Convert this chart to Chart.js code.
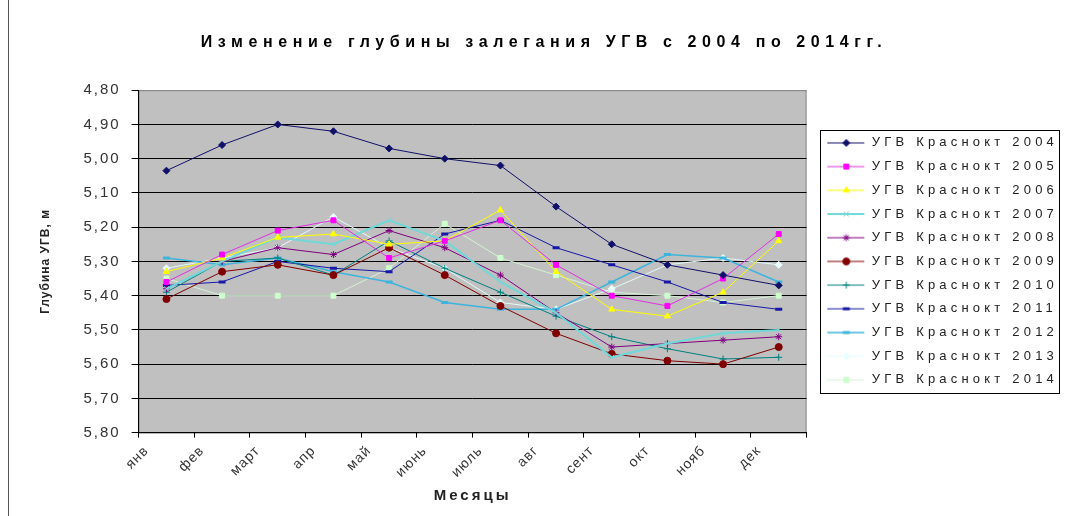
<!DOCTYPE html>
<html>
<head>
<meta charset="utf-8">
<script src="https://cdn.jsdelivr.net/npm/chart.js"></script>
<style>
  html, body { margin: 0; padding: 0; background: #fff; }
  #wrap { width: 1068px; height: 516px; position: relative; }
</style>
</head>
<body>
<div id="wrap"><canvas id="chart" width="1068" height="516"></canvas></div>
<script>
// months and yearly series (depth to groundwater, m)
let months = ["янв", "фев", "март", "апр", "май", "июнь", "июль", "авг", "сент", "окт", "нояб", "дек"];
let years = ["2004", "2005", "2006", "2007", "2008", "2009", "2010", "2011", "2012", "2013", "2014"];
let yTicks = [4.8, 4.9, 5.0, 5.1, 5.2, 5.3, 5.4, 5.5, 5.6, 5.7, 5.8];

let ugv2004 = [5.035, 4.96, 4.90, 4.92, 4.97, 5.00, 5.02, 5.14, 5.25, 5.31, 5.34, 5.37];
let ugv2005 = [5.36, 5.28, 5.21, 5.18, 5.29, 5.24, 5.18, 5.31, 5.40, 5.43, 5.35, 5.22];
let ugv2006 = [5.33, 5.29, 5.23, 5.22, 5.25, 5.24, 5.15, 5.33, 5.44, 5.46, 5.39, 5.24];
let ugv2007 = [5.38, 5.30, 5.23, 5.25, 5.18, 5.24, 5.36, 5.45, 5.58, 5.54, 5.51, 5.50];
let ugv2008 = [5.38, 5.30, 5.26, 5.28, 5.21, 5.26, 5.34, 5.45, 5.55, 5.54, 5.53, 5.52];
let ugv2009 = [5.41, 5.33, 5.31, 5.34, 5.26, 5.34, 5.43, 5.51, 5.57, 5.59, 5.60, 5.55];
let ugv2010 = [5.39, 5.30, 5.29, 5.34, 5.24, 5.32, 5.39, 5.46, 5.52, 5.555, 5.585, 5.58];
let ugv2011 = [5.37, 5.36, 5.30, 5.32, 5.33, 5.22, 5.18, 5.26, 5.31, 5.36, 5.42, 5.44];
let ugv2012 = [5.29, 5.31, 5.29, 5.33, 5.36, 5.42, 5.44, 5.44, 5.36, 5.28, 5.29, 5.36];
let ugv2013 = [5.32, 5.29, 5.26, 5.17, 5.26, 5.32, 5.42, 5.44, 5.38, 5.31, 5.29, 5.31];
let ugv2014 = [5.35, 5.40, 5.40, 5.40, 5.32, 5.19, 5.29, 5.34, 5.39, 5.40, 5.42, 5.40];

let series = [ugv2004, ugv2005, ugv2006, ugv2007, ugv2008, ugv2009, ugv2010, ugv2011, ugv2012, ugv2013, ugv2014];
let lineColors = ["#10106a", "#e030e0", "#ffff00", "#6fd8d8", "#800080", "#800000", "#008080", "#1818a8", "#3db4dc", "#e4fafa", "#d4f4d4"];
let markerFills = ["#10106a", "#ff00ff", "#ffff00", "#6fd8d8", "#800080", "#800000", "#008080", "#1818a8", "#3db4dc", "#e8ffff", "#ccffcc"];
let markers = ["rectRot", "rect", "triangle", "crossRot", "star", "circle", "cross", "line", "line", "rectRot", "rect"];
let lineWidths = [1, 1, 1, 2, 1, 1, 1, 1, 1.5, 1, 1];

let font = "'Liberation Sans', Arial, sans-serif";

function legendSwatch(i) {
  let c = document.createElement("canvas");
  c.width = 48;
  c.height = 14;
  let g = c.getContext("2d");
  g.strokeStyle = lineColors[i];
  g.lineWidth = lineWidths[i];
  g.beginPath();
  g.moveTo(10, 7);
  g.lineTo(47, 7);
  g.stroke();
  g.fillStyle = markerFills[i];
  g.strokeStyle = markers[i] === "line" ? lineColors[i] : markerFills[i];
  g.lineWidth = markers[i] === "line" ? 3 : 1;
  Chart.helpers.drawPoint(g, { pointStyle: markers[i], radius: 3.5, rotation: 0, borderWidth: g.lineWidth }, 29, 7);
  return c;
}

// letter spacing per layout box, the source chart is drawn with widely spaced text
function wrapSpacing(obj, name, sp) {
  let orig = obj[name];
  obj[name] = function () {
    let c = this.ctx;
    let prev = c.letterSpacing;
    c.letterSpacing = sp;
    let r = orig.apply(this, arguments);
    c.letterSpacing = prev;
    return r;
  };
}

let spacingPlugin = {
  id: "spacing",
  beforeLayout(chart) {
    chart.boxes.forEach((box) => {
      if (box._spaced) return;
      let sp = "0px";
      if (box === chart.legend) sp = "4.2px";
      else if (box === chart.titleBlock) sp = "5.6px";
      else if (box.id === "y") sp = "2px";
      else if (box.id === "x") sp = "1px";
      wrapSpacing(box, "update", sp);
      wrapSpacing(box, "draw", sp);
      if (box.id === "x") wrapSpacing(box, "drawTitle", "3px");
      if (box.id === "y") wrapSpacing(box, "drawTitle", "1px");
      box._spaced = true;
    });
  },
};

let framePlugin = {
  id: "frame",
  beforeDraw(chart) {
    let a = chart.chartArea;
    let ctx = chart.ctx;
    ctx.save();
    ctx.fillStyle = "#c0c0c0";
    ctx.fillRect(a.left, a.top, a.right - a.left, a.bottom - a.top);
    ctx.strokeStyle = "#8a8a8a";
    ctx.lineWidth = 1;
    ctx.strokeRect(a.left + 0.5, a.top + 0.5, a.right - a.left - 1, a.bottom - a.top);
    ctx.restore();
  },
  afterDraw(chart) {
    let ctx = chart.ctx;
    ctx.save();
    ctx.strokeStyle = "#555";
    ctx.lineWidth = 1;
    ctx.beginPath();
    ctx.moveTo(8.5, 0);
    ctx.lineTo(8.5, 516);
    ctx.stroke();
    // legend frame
    let hb = chart.legend.legendHitBoxes;
    if (hb && hb.length) {
      let l = Math.min(...hb.map((b) => b.left)) + 3;
      let t = Math.min(...hb.map((b) => b.top)) - 6;
      let r = Math.max(...hb.map((b) => b.left + b.width)) + 1;
      let btm = Math.max(...hb.map((b) => b.top + b.height)) + 7;
      ctx.strokeStyle = "#000";
      ctx.strokeRect(Math.round(l) + 0.5, Math.round(t) + 0.5, Math.round(r - l), Math.round(btm - t));
    }
    ctx.restore();
  },
};

let datasets = [];
for (let i = 0; i < series.length; i++) {
  datasets.push({
    label: "УГВ Краснокт " + years[i],
    data: series[i],
    borderColor: lineColors[i],
    backgroundColor: markerFills[i],
    borderWidth: lineWidths[i],
    pointStyle: markers[i],
    pointRadius: 3.5,
    pointHoverRadius: 3.5,
    pointBackgroundColor: markerFills[i],
    pointBorderColor: markers[i] === "line" ? lineColors[i] : markerFills[i],
    pointBorderWidth: markers[i] === "line" ? 3 : 1,
    tension: 0,
    fill: false,
  });
}

let config = {
  type: "line",
  data: { labels: months, datasets: datasets },
  options: {
    responsive: false,
    animation: false,
    devicePixelRatio: 1,
    layout: { padding: { top: 0, left: 20, right: 0, bottom: 0 } },
    plugins: {
      tooltip: { enabled: false },
      title: {
        display: true,
        text: "Изменение глубины залегания УГВ с 2004 по 2014гг.",
        color: "#000",
        font: { family: font, size: 16, weight: "bold" },
        padding: { top: 33, bottom: 38 },
      },
      legend: {
        position: "right",
        align: "center",
        fullSize: false,
        labels: {
          color: "#222",
          font: { family: font, size: 13 },
          usePointStyle: true,
          pointStyleWidth: 48,
          padding: 10.7,
          generateLabels(chart) {
            let items = Chart.defaults.plugins.legend.labels.generateLabels(chart);
            items.forEach((it, i) => {
              it.pointStyle = legendSwatch(i);
            });
            return items;
          },
        },
      },
    },
    scales: {
      x: {
        offset: true,
        grid: { display: true, drawOnChartArea: false, drawTicks: true, tickLength: 5, color: "#000", offset: true },
        border: { color: "#000", width: 1 },
        ticks: {
          autoSkip: false,
          minRotation: 45,
          maxRotation: 45,
          color: "#333",
          padding: 5,
          labelOffset: -20,
          font: { family: font, size: 14 },
        },
        title: {
          display: true,
          text: "Месяцы",
          color: "#222",
          font: { family: font, size: 15, weight: "bold" },
          padding: { top: 1, bottom: 11 },
        },
      },
      y: {
        reverse: true,
        min: yTicks[0],
        max: yTicks[yTicks.length - 1],
        afterBuildTicks(scale) {
          scale.ticks = yTicks.map((v) => ({ value: v }));
        },
        grid: {
          color(ctx) {
            return ctx.tick && ctx.tick.value <= 4.8001 ? "#8a8a8a" : "#000";
          },
          tickColor: "#000",
          tickLength: 7,
          lineWidth: 1,
        },
        border: { color: "#000", width: 1 },
        ticks: {
          color: "#333",
          padding: 11,
          font: { family: font, size: 15 },
          callback(v) {
            return Number(v).toFixed(2).replace(".", ",");
          },
        },
        title: {
          display: true,
          text: "Глубина УГВ, м",
          color: "#222",
          font: { family: font, size: 12, weight: "bold" },
          padding: { top: 18, bottom: 20 },
        },
      },
    },
  },
  plugins: [spacingPlugin, framePlugin],
};

let chart = new Chart(document.getElementById("chart"), config);
</script>
</body>
</html>
